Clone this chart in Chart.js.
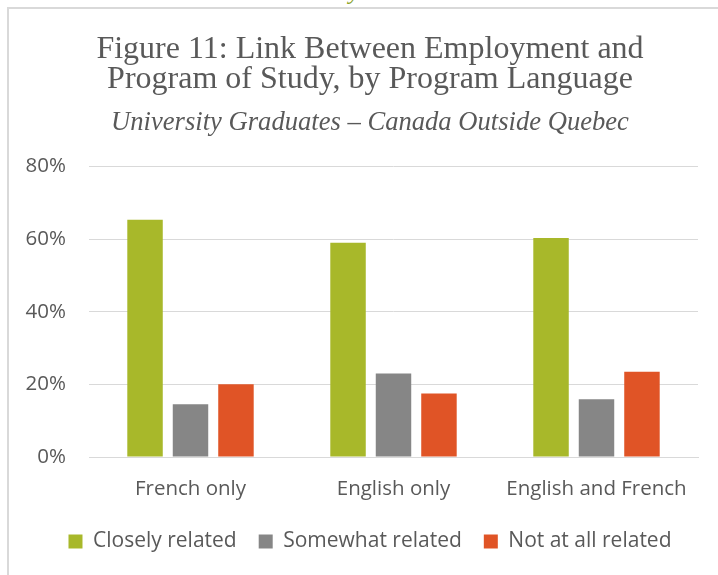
<!DOCTYPE html>
<html>
<head>
<meta charset="utf-8">
<script src="https://cdn.jsdelivr.net/npm/chart.js@4"></script>
<style>
  html, body { margin: 0; padding: 0; background: #fff; overflow: hidden; }
  body { width: 718px; height: 575px; position: relative; }
  #frame { position: absolute; left: 7px; top: 7px; width: 760px; height: 620px;
           border-top: 2px solid #d9d9d9; border-left: 2px solid #d9d9d9; }
  #cut { position: absolute; left: 349px; top: -21px; font: italic 24px "Liberation Serif", serif;
         color: #8ca32a; line-height: 24px; }
  #wrap { position: absolute; left: 0; top: 0; width: 740px; height: 575px; }
</style>
</head>
<body>
<div id="cut">y</div>
<div id="frame"></div>
<div id="wrap"><canvas id="chart"></canvas></div>
<script>
const categories = ["French only", "English only", "English and French"];
const closelyRelated = [65.3, 59.0, 60.3];
const somewhatRelated = [14.5, 23.0, 15.9];
const notAtAllRelated = [20.0, 17.5, 23.5];
const yTicks = [0, 20, 40, 60, 80];

const textColor = "#595959";
const sans = "'Open Sans', sans-serif";

// the y labels sit left of the centred title block, so let them draw outside their box
const widenYAxis = {
  id: "widenYAxis",
  afterLayout(chart) {
    chart.scales.y.left = 0;
  },
};

const ctx = document.getElementById("chart").getContext("2d");
new Chart(ctx, {
  type: "bar",
  plugins: [widenYAxis],
  data: {
    labels: categories,
    datasets: [
      { label: "Closely related", data: closelyRelated, backgroundColor: "#a8b82a" },
      { label: "Somewhat related", data: somewhatRelated, backgroundColor: "#868686" },
      { label: "Not at all related", data: notAtAllRelated, backgroundColor: "#e05426" },
    ],
  },
  options: {
    responsive: true,
    maintainAspectRatio: false,
    animation: false,
    datasets: {
      bar: { categoryPercentage: 0.672, barPercentage: 0.78 },
    },
    layout: { padding: { left: 42, right: 42, top: 0, bottom: 13 } },
    scales: {
      x: {
        afterFit: (scale) => { scale.height = 52; },
        grid: { display: false, drawTicks: false },
        border: { display: true, color: "#d9d9d9", width: 1 },
        ticks: { color: textColor, font: { family: sans, size: 20.5 }, padding: 20 },
      },
      y: {
        min: 0,
        max: 80,
        afterFit: (scale) => { scale.width = 47; },
        afterBuildTicks: (scale) => { scale.ticks = yTicks.map((v) => ({ value: v })); },
        grid: { color: "#d9d9d9", lineWidth: 1, drawTicks: false },
        border: { display: false },
        ticks: {
          color: textColor,
          font: { family: sans, size: 20.5 },
          padding: 23,
          callback: (v) => v + "%",
        },
      },
    },
    plugins: {
      title: {
        display: true,
        text: ["Figure 11: Link Between Employment and", "Program of Study, by Program Language"],
        color: textColor,
        font: { family: "'Liberation Serif', serif", size: 32, weight: "normal", lineHeight: 0.95 },
        padding: { top: 34, bottom: 0 },
      },
      subtitle: {
        display: true,
        text: "University Graduates \u2013 Canada Outside Quebec",
        color: textColor,
        font: { family: "'Liberation Serif', serif", size: 26.6, style: "italic", lineHeight: 1 },
        padding: { top: 15, bottom: 30 },
      },
      legend: {
        position: "bottom",
        labels: {
          color: textColor,
          font: { family: sans, size: 21 },
          boxWidth: 14,
          boxHeight: 14,
          padding: 22,
        },
      },
      tooltip: { enabled: false },
    },
  },
});
</script>
</body>
</html>
